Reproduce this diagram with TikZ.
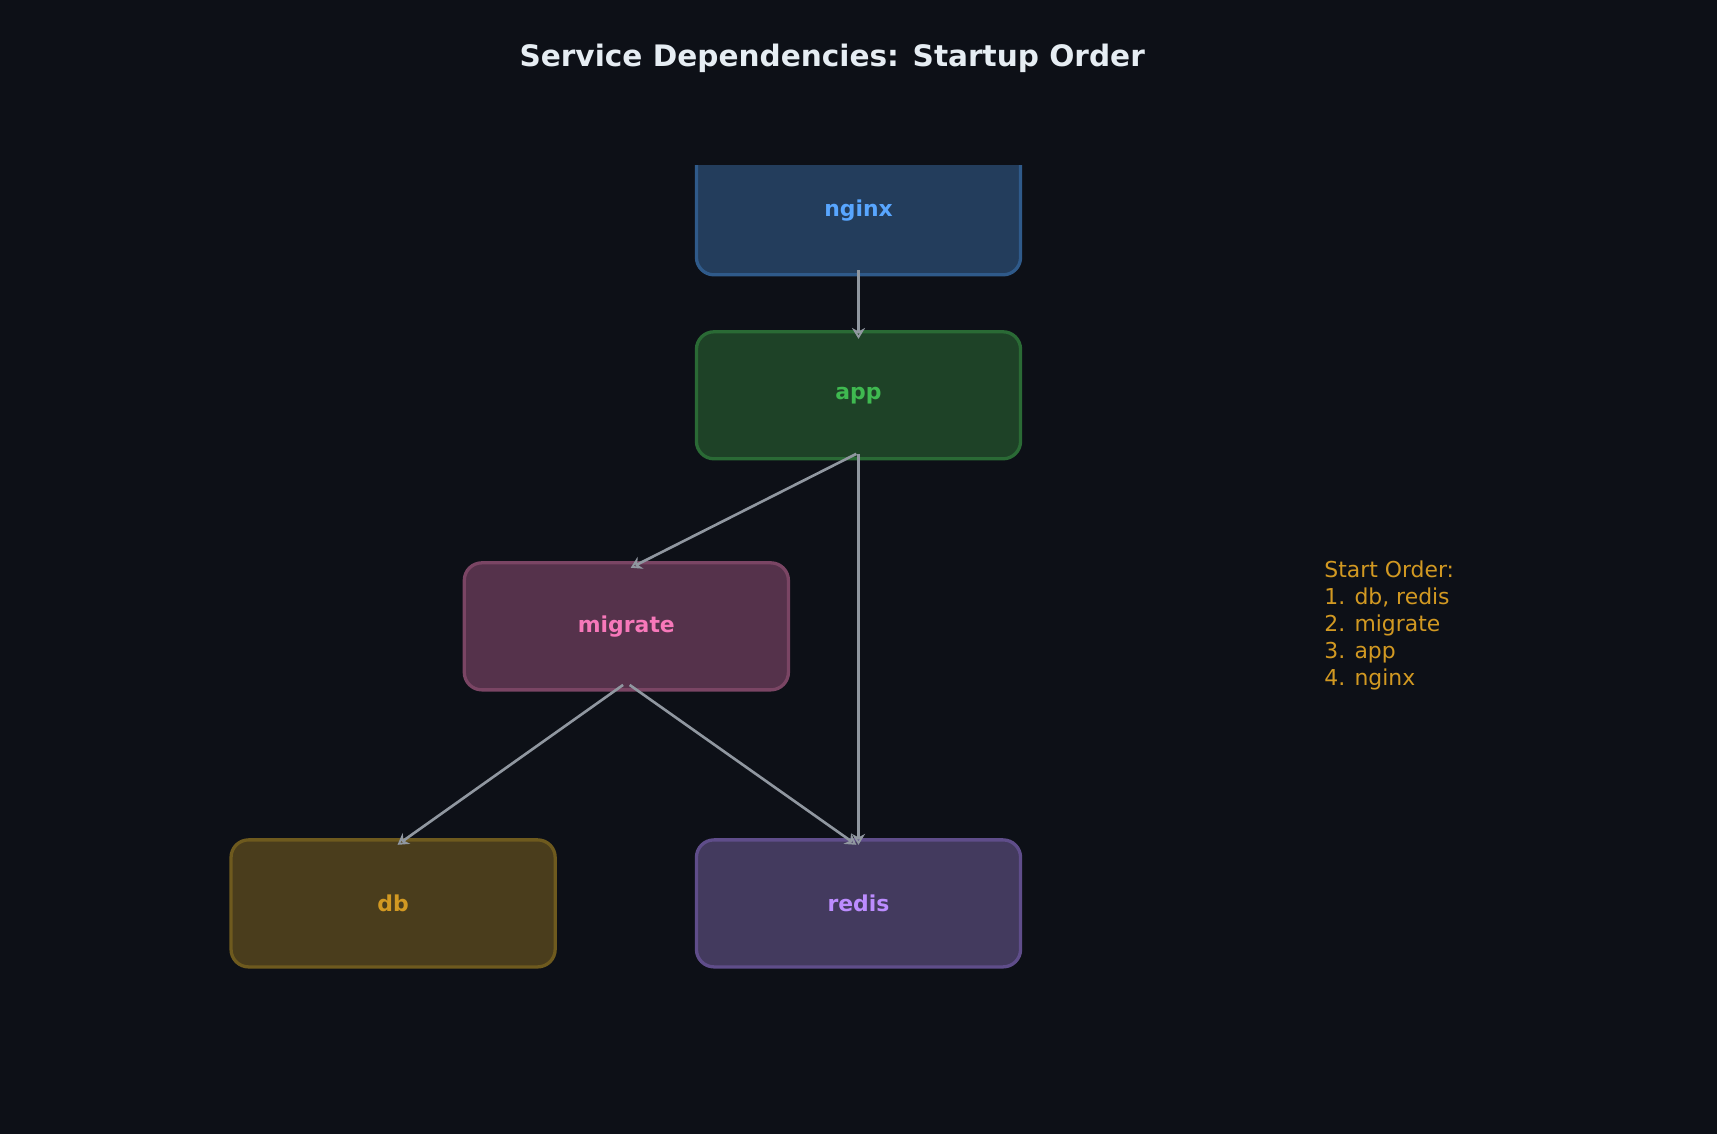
\documentclass[tikz,border=0pt]{standalone}
\usepackage{fontspec}
\setmainfont{DejaVu Sans}
\usetikzlibrary{arrows.meta}
\definecolor{bg}{HTML}{0D1017}
\definecolor{arr}{HTML}{9097A0}
\definecolor{ttl}{HTML}{E6EDF3}
\definecolor{nf}{HTML}{233D5C}\definecolor{nd}{HTML}{2F5A8A}\definecolor{nt}{HTML}{58A6FF}
\definecolor{af}{HTML}{1E4227}\definecolor{ad}{HTML}{2A6A35}\definecolor{at}{HTML}{3FB950}
\definecolor{mf}{HTML}{55324B}\definecolor{md}{HTML}{7A4564}\definecolor{mt}{HTML}{F778BA}
\definecolor{df}{HTML}{4A3D1C}\definecolor{dd}{HTML}{6E5A1E}\definecolor{dt}{HTML}{D29922}
\definecolor{rf}{HTML}{433A5E}\definecolor{rd}{HTML}{5F4D8A}\definecolor{rt}{HTML}{BC8CFF}
\tikzset{
 svc/.style={draw, line width=1.5pt, rounded corners=8pt, minimum width=148pt, minimum height=58pt, inner sep=0pt, font=\bfseries\fontsize{10}{12}\selectfont},
 dep/.style={draw=arr, line width=1.2pt, -{Stealth[open,length=5pt,width=6pt]}}
}
\begin{document}
\begin{tikzpicture}[x=0.5pt,y=-0.5pt]
\useasboundingbox (0,0) rectangle (1568,1036);
\fill[bg] (0,0) rectangle (1568,1036);
\node[text=ttl, font=\bfseries\fontsize{13.5}{16}\selectfont] (title) at (760,53) {Service Dependencies: Startup Order};
\begin{scope}
\clip (600,151) rectangle (960,270);
\node[svc, fill=nf, draw=nd, minimum height=84pt] (nginxbox) at (784,167) {};
\end{scope}
\node[font=\bfseries\fontsize{10}{12}\selectfont, text=nt] (nginx) at (784,192) {nginx};
\coordinate (nginxs) at (784,247);
\node[svc, fill=af, draw=ad, text=at] (app) at (784,361) {app};
\node[svc, fill=mf, draw=md, text=mt] (migrate) at (572,572) {migrate};
\node[svc, fill=df, draw=dd, text=dt] (db) at (359,825) {db};
\node[svc, fill=rf, draw=rd, text=rt] (redis) at (784,825) {redis};
\draw[dep] (nginxs) -- ([yshift=-4pt]app.north);
\draw[dep] ([xshift=-1pt,yshift=3pt]app.south) -- ([xshift=2pt,yshift=-3pt]migrate.north);
\draw[dep] ([yshift=3pt]app.south) -- ([yshift=-3pt]redis.north);
\draw[dep] ([xshift=-1.5pt,yshift=3pt]migrate.south) -- ([xshift=2pt,yshift=-3pt]db.north);
\draw[dep] ([xshift=1.5pt,yshift=3pt]migrate.south) -- ([xshift=-1pt,yshift=-3pt]redis.north);
\node[anchor=north west, align=left, text=dt, font=\fontsize{10}{12.3}\selectfont, inner sep=0pt] (order) at (1209,512) {Start Order:\\1. db, redis\\2. migrate\\3. app\\4. nginx};
\end{tikzpicture}
\end{document}
